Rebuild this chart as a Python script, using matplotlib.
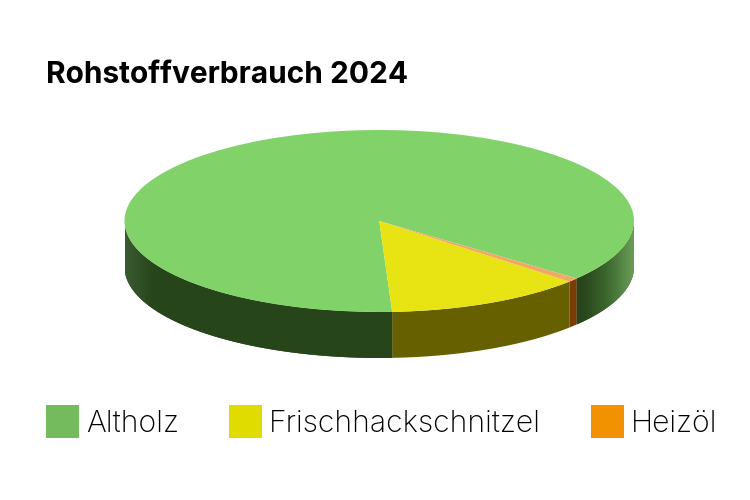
import numpy as np
import matplotlib
matplotlib.use("Agg")
import matplotlib.pyplot as plt
from matplotlib.patches import Patch, Polygon
from matplotlib.colors import LinearSegmentedColormap

title = "Rohstoffverbrauch 2024"
categories = ["Altholz", "Frischhackschnitzel", "Heizöl"]
shares = [86.7, 12.6, 0.7]
top_colors = ["#82d26a", "#e8e312", "#f3a765"]
side_colors = ["#27451a", "#666000", "#7a3c05"]
legend_colors = ["#74bb5d", "#e0dc00", "#f39200"]
start_angle = -39.2
depth = 0.505

W, H = 750, 500
fig = plt.figure(figsize=(W / 100, H / 100), dpi=100)
x0, x1 = 124.5, 634
ytop, ybot = 221 - 1.05 * 91, 221 + 1.6 * 91
ax = fig.add_axes([x0 / W, 1 - ybot / H, (x1 - x0) / W, (ybot - ytop) / H])

wedges, _ = ax.pie(shares, colors=top_colors, startangle=start_angle,
                   radius=1, center=(0, 0), frame=False,
                   wedgeprops=dict(linewidth=0, zorder=5))
ax.set_aspect("auto")

# side walls: the visible lower half of each slice
edges = start_angle + np.cumsum([0] + shares) * 3.6
gradient = LinearSegmentedColormap.from_list(
    "wall", [(0, "#3c5a32"), (0.055, "#27451a"), (0.90, "#27451a"),
             (0.95, "#3f6a30"), (1, "#6b9f58")])
for a, b, c in zip(edges[:-1], edges[1:], side_colors):
    spans = [(a, b), (a + 360, b + 360), (a - 360, b - 360)]
    for s, e in spans:
        lo, hi = max(s, 180), min(e, 360)
        if hi <= lo:
            continue
        t = np.radians(np.linspace(lo, hi, 200))
        xs, ys = np.cos(t), np.sin(t)
        pts = np.r_[np.c_[xs, ys], np.c_[xs[::-1], ys[::-1] - depth]]
        poly = Polygon(pts, closed=True, fc=c, ec="none", zorder=2)
        ax.add_patch(poly)
        if c == side_colors[0]:
            im = ax.imshow(np.linspace(0, 1, 512)[None, :], cmap=gradient,
                           extent=(-1, 1, -1.6, 1.05), aspect="auto", zorder=2.5)
            im.set_clip_path(poly)

ax.set_xlim(-1, 1)
ax.set_ylim(-1.6, 1.05)
ax.axis("off")

fig.text(46 / W, 1 - 83 / H, title, fontfamily="Inter", fontweight="bold",
         fontsize=21.5, color="black", ha="left", va="baseline")

fs = 21.7
px = fs * 100 / 72
handles = [Patch(fc=c, ec="none") for c in legend_colors]
fig.legend(handles, categories, ncol=3, loc="center left",
           bbox_to_anchor=(46 / W, 1 - 421.5 / H), frameon=False,
           prop=dict(family="Inter", size=fs, weight="light"), borderpad=0, borderaxespad=0,
           handlelength=33 / px, handleheight=1.31,
           handletextpad=7 / px, columnspacing=50 / px)

fig.savefig("out.png", dpi=100)
